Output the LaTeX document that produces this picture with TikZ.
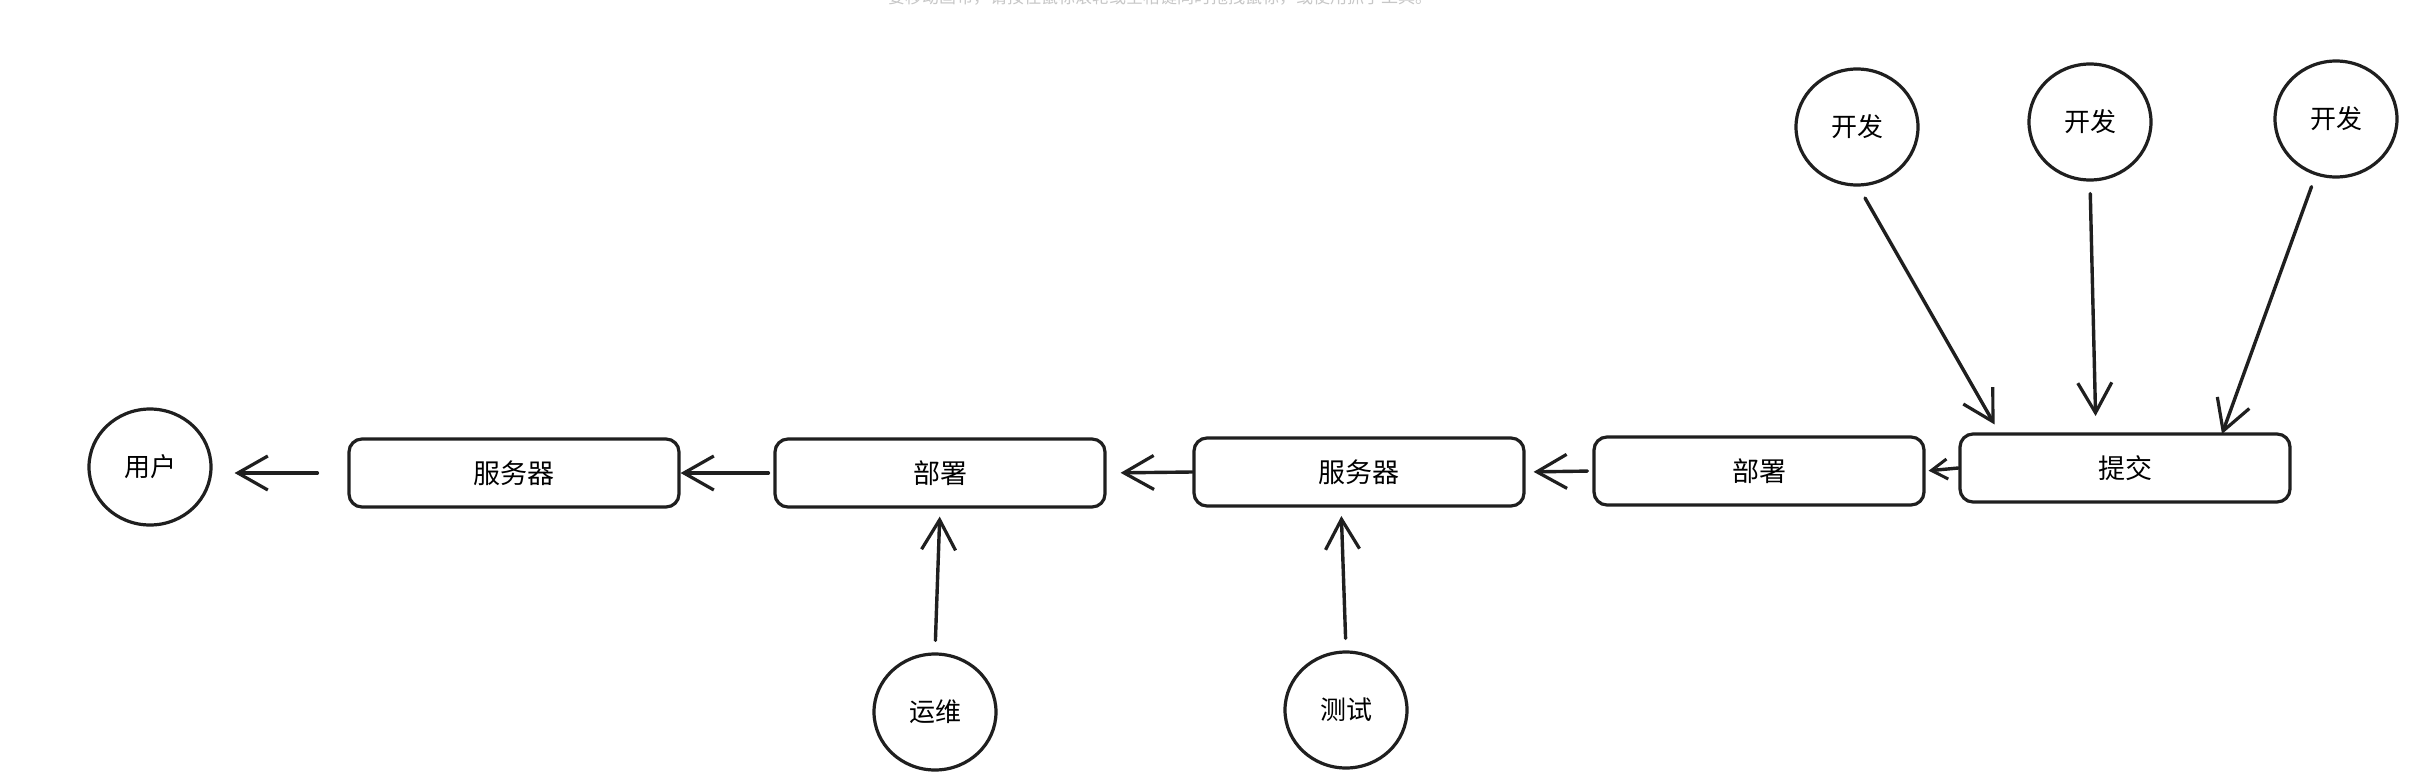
\documentclass[tikz,border=0pt]{standalone}
\usepackage{fontspec}
\setmainfont{Noto Sans CJK SC}
\usetikzlibrary{arrows.meta,shapes.geometric}
\begin{document}
\begin{tikzpicture}[x=1pt,y=-1pt,
  ink/.style={draw=black!88, line width=3.2pt},
  box/.style={ink, rounded corners=13pt, minimum width=330pt, minimum height=68pt, inner sep=0pt, font=\fontsize{27}{32}\selectfont},
  role/.style={ink, ellipse, minimum width=122pt, minimum height=116pt, inner sep=0pt, font=\fontsize{26}{31}\selectfont},
  conn/.style={draw=black!88, line width=3.4pt, line cap=round, -{Straight Barb[length=30pt,width=34pt,line width=3.2pt]}},
  short/.style={draw=black!88, line width=3.4pt, line cap=round, -{Straight Barb[length=16pt,width=20pt,line width=3pt]}}]
\useasboundingbox (0,0) rectangle (2431,779);
\fill[white] (0,0) rectangle (2431,779);
\node[text=black!22, font=\fontsize{17}{20}\selectfont, anchor=center] (hint) at (1160,-3) {要移动画布，请按住鼠标滚轮或空格键同时拖拽鼠标，或使用抓手工具。};

% boxes
\node[box] (srv1) at (514,473) {服务器};
\node[box] (dep1) at (940,473) {部署};
\node[box] (srv2) at (1359,472) {服务器};
\node[box] (dep2) at (1759,471) {部署};
\node[box] (commit) at (2125,468) {提交};

% circles
\node[role] (user) at (150,467) {用户};
\node[role] (dev1) at (1857,127) {开发};
\node[role] (dev2) at (2090,122) {开发};
\node[role] (dev3) at (2336,119) {开发};
\node[role] (ops) at (935,712) {运维};
\node[role] (test) at (1346,710) {测试};

% free ends
\coordinate (s1) at (1865,198);
\coordinate (t1) at (2000,434);
\coordinate (t2) at (2096,434);
\coordinate (t3) at (2222,434);
\coordinate (t4) at (1341,505);

% horizontal flow
\draw[conn, shorten <=30pt, shorten >=22pt] (srv1.west) -- (user.east |- srv1.west);
\draw[conn, shorten <=5pt] (dep1.west) -- (srv1.east);
\draw[conn, shorten >=14pt] (srv2.west) -- (dep1.east);
\draw[conn, shorten <=5pt, shorten >=8pt] (dep2.west) -- (srv2.east);
\draw[short, shorten >=3pt] (commit.west) -- (dep2.east);

% developers
\draw[conn, shorten >=11pt] (s1) -- (t1);
\draw[conn, shorten <=12pt, shorten >=18pt] (dev2.south) -- (t2);
\draw[conn, shorten <=12pt] (dev3) -- (t3);

% ops / test
\draw[conn, shorten <=12pt, shorten >=8pt] (ops.north) -- (dep1.south);
\draw[conn, shorten <=12pt, shorten >=11pt] (test.north) -- (t4);
\end{tikzpicture}
\end{document}
